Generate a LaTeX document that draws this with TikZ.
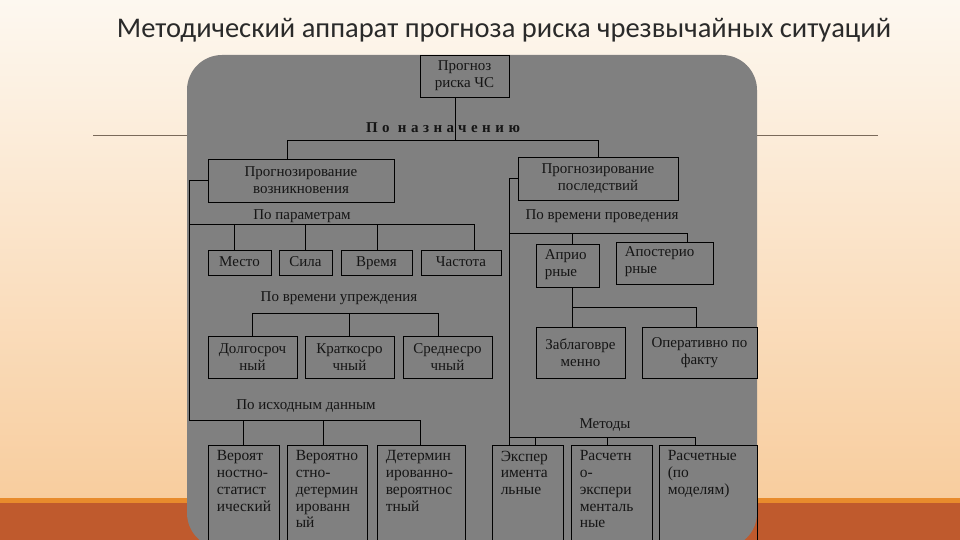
\documentclass[tikz,border=0pt]{standalone}
\usepackage{fontspec}
\setmainfont{Liberation Serif}
\newfontfamily\titlefont{Carlito}
\newfontfamily\spacedfont[LetterSpace=30]{Liberation Serif}
\definecolor{bgtop}{HTML}{FDF8F0}
\definecolor{bgbot}{HTML}{F8CD9E}
\definecolor{orline}{HTML}{E88B2C}
\definecolor{orband}{HTML}{BF5A2D}
\definecolor{panel}{HTML}{808080}
\definecolor{rule}{HTML}{7A6A5A}
\definecolor{titlec}{HTML}{2A2A2A}
\definecolor{txt}{HTML}{151515}
\newcommand\boxfont{\fontsize{15}{16.8}\selectfont}
\newcommand\lowfont{\fontsize{15.5}{16.7}\selectfont}
\tikzset{
  bx/.style={draw=black, line width=0.9pt, inner sep=0pt, align=center, font=\boxfont, text=txt},
  onel/.style={text height=10.5pt, text depth=3.5pt},
  lbl/.style={inner sep=0pt, font=\boxfont, text=txt},
  tx/.style={inner sep=0pt, align=left, anchor=north west, font=\lowfont, text=txt, execute at begin node={\strut}},
  ln/.style={draw=black, line width=0.9pt},
}
\begin{document}
\begin{tikzpicture}[x=1pt,y=-1pt]
\useasboundingbox (0,0) rectangle (960,540);
% background
\shade[top color=bgtop, bottom color=bgbot] (0,0) rectangle (960,498);
\fill[orline] (0,498) rectangle (960,503);
\fill[orband] (0,503) rectangle (960,540);
\draw[rule, line width=1pt] (93,136) -- (878,136);
\node[font=\titlefont\fontsize{28.5}{32}\selectfont, text=titlec, inner sep=0pt] (title) at (504,30) {Методический аппарат прогноза риска чрезвычайных ситуаций};
\begin{scope}
\clip (0,0) rectangle (960,540);
\fill[panel, rounded corners=35pt] (187,55) rectangle (757,548);
% boxes
\node[bx,minimum width=89pt,minimum height=42pt] (top) at (464.5,76) {Прогноз\\риска ЧС};
\node[bx,minimum width=186pt,minimum height=43pt] (L1) at (301,180.5) {Прогнозирование\\возникновения};
\node[bx,minimum width=160pt,minimum height=43pt] (R1) at (598,178.5) {Прогнозирование\\последствий};
\node[bx,onel,minimum width=63pt,minimum height=25pt] (Me) at (239.5,262.5) {Место};
\node[bx,onel,minimum width=53pt,minimum height=25pt] (Si) at (305.5,262.5) {Сила};
\node[bx,onel,minimum width=71pt,minimum height=25pt] (Vr) at (376.5,262.5) {Время};
\node[bx,onel,minimum width=80pt,minimum height=25pt] (Ch) at (461,262.5) {Частота};
\node[bx,minimum width=89pt,minimum height=42pt] (D1) at (252.5,357) {Долгосроч\\ный};
\node[bx,minimum width=89pt,minimum height=42pt] (D2) at (349.5,357) {Краткосро\\чный};
\node[bx,minimum width=89pt,minimum height=42pt] (D3) at (447.5,357) {Среднесро\\чный};
\node[bx,minimum width=71pt,minimum height=100pt] (B1) at (243.5,495) {};
\node[bx,minimum width=80pt,minimum height=100pt] (B2) at (327,495) {};
\node[bx,minimum width=88pt,minimum height=100pt] (B3) at (421,495) {};
\node[bx,minimum width=63pt,minimum height=43pt] (Apr) at (567.5,265.5) {};
\node[bx,minimum width=97pt,minimum height=42pt] (Ap) at (664.5,263) {};
\node[bx,minimum width=89pt,minimum height=51pt] (Zab) at (580.5,352.5) {Заблаговре\\менно};
\node[bx,minimum width=115pt,minimum height=51pt] (Op) at (699.5,352.5) {Оперативно по\\факту};
\node[bx,minimum width=71pt,minimum height=100pt] (E1) at (527.5,495) {};
\node[bx,minimum width=81pt,minimum height=100pt] (E2) at (611.5,495) {};
\node[bx,minimum width=98pt,minimum height=100pt] (E3) at (708,495) {};
% texts in top-left aligned boxes
\node[tx,font=\boxfont] at ([xshift=9pt,yshift=-6pt]Apr.north west) {Априо\\рные};
\node[tx,font=\boxfont] at ([xshift=9pt,yshift=-5pt]Ap.north west) {Апостерио\\рные};
\node[tx] at ([xshift=9pt,yshift=-6pt]B1.north west) {Вероят\\ностно-\\статист\\ический};
\node[tx] at ([xshift=9pt,yshift=-6pt]B2.north west) {Вероятно\\стно-\\детермин\\ированн\\ый};
\node[tx] at ([xshift=9pt,yshift=-6pt]B3.north west) {Детермин\\ированно-\\вероятнос\\тный};
\node[tx] at ([xshift=9pt,yshift=-6pt]E1.north west) {Экспер\\имента\\льные};
\node[tx] at ([xshift=9pt,yshift=-6pt]E2.north west) {Расчетн\\о-\\экспери\\менталь\\ные};
\node[tx] at ([xshift=9pt,yshift=-6pt]E3.north west) {Расчетные\\(по\\моделям)};
% labels
\node[lbl,font=\fontsize{15}{17}\selectfont] (lNaz) at (443,128) {\spacedfont\bfseries По назначению};
\node[lbl] (lPar) at (302,216) {По параметрам};
\node[lbl] (lUpr) at (339,298) {По времени упреждения};
\node[lbl] (lIsh) at (306,406) {По исходным данным};
\node[lbl] (lPro) at (602,216) {По времени проведения};
\node[lbl] (lMet) at (605,425) {Методы};
% connectors
\draw[ln] (455,0 |- top.south) -- (455,140);
\draw[ln] (287,0 |- L1.north) -- (287,140) -- (598,140) -- (598,0 |- R1.north);
\draw[ln] (L1.west) -| (189,420) -- (420,420) -- (420,0 |- B3.north);
\draw[ln] (189,224) -- (474,224) -- (474,0 |- Ch.north);
\draw[ln] (234,224) -- (234,0 |- Me.north);
\draw[ln] (305,224) -- (305,0 |- Si.north);
\draw[ln] (377,224) -- (377,0 |- Vr.north);
\draw[ln] (243,420) -- (243,0 |- B1.north);
\draw[ln] (323,420) -- (323,0 |- B2.north);
\draw[ln] (D1.north) -- (D1.north |- 0,313) -- (438,313) -- (438,0 |- D3.north);
\draw[ln] (D2.north) -- (D2.north |- 0,313);
\draw[ln] (R1.west) -| (509,0 |- E1.north);
\draw[ln] (509,233) -- (687,233) -- (687,0 |- Ap.north);
\draw[ln] (572,233) -- (572,0 |- Apr.north);
\draw[ln] (572,0 |- Apr.south) -- (572,0 |- Zab.north);
\draw[ln] (572,307) -- (696,307) -- (696,0 |- Op.north);
\draw[ln] (509,437) -- (695,437) -- (695,0 |- E3.north);
\draw[ln] (535,437) -- (535,0 |- E1.north);
\draw[ln] (607,437) -- (607,0 |- E2.north);
\end{scope}
\end{tikzpicture}
\end{document}
